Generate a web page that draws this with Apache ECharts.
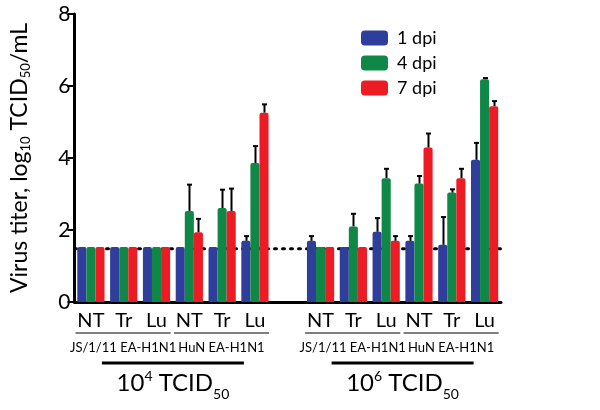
<!DOCTYPE html>
<html><head><meta charset="utf-8">
<script src="https://cdn.jsdelivr.net/npm/echarts@6/dist/echarts.min.js"></script>
<style>html,body{margin:0;padding:0;background:#fff}#c{width:600px;height:410px}</style>
</head><body><div id="c"></div>
<script>
// ---- data ----
const categories = ['a1','a2','a3','a4','a5','a6','gap','b1','b2','b3','b4','b5','b6'];
const tickLabels = ['NT','Tr','Lu','NT','Tr','Lu','','NT','Tr','Lu','NT','Tr','Lu'];
const seriesNames = ['1 dpi','4 dpi','7 dpi'];
const dpi1 = [1.53,1.53,1.53,1.53,1.53,1.70,null,1.70,1.53,1.95,1.70,1.59,3.95];
const dpi1Err = [0,0,0,0,0,0.13,null,0.13,0,0.38,0.13,0.77,0.47];
const dpi4 = [1.53,1.53,1.53,2.53,2.61,3.86,null,1.53,2.10,3.44,3.29,3.04,6.19];
const dpi4Err = [0,0,0,0.73,0.51,0.47,null,0,0.35,0.26,0.21,0.09,0.03];
const dpi7 = [1.53,1.53,1.53,1.94,2.53,5.26,null,1.53,1.53,1.70,4.29,3.44,5.44];
const dpi7Err = [0,0,0,0.37,0.62,0.23,null,0,0,0.13,0.39,0.26,0.14];
const detectionLimit = 1.48;
const strainGroups = [
  {label:'JS/1/11 EA-H1N1', from:0, to:2},
  {label:'HuN EA-H1N1', from:3, to:5},
  {label:'JS/1/11 EA-H1N1', from:7, to:9},
  {label:'HuN EA-H1N1', from:10, to:12}
];
const doseGroups = [
  {exp:'4', from:0, to:5},
  {exp:'6', from:7, to:12}
];
const colors = ['#2F3E9B','#0F8747','#ED1C24'];

// ---- chart ----
const FONT = 'Lato';
const CAT_GAP = 0.17;
const chart = echarts.init(document.getElementById('c'), null, {renderer:'canvas'});
const means = [dpi1, dpi4, dpi7];
const errs = [dpi1Err, dpi4Err, dpi7Err];

function errData(m, e) {
  const out = [];
  m.forEach((v, i) => { if (v != null && e[i] > 0) out.push([i, v, v + e[i]]); });
  return out;
}
function makeErr(sIdx) {
  return {
    type: 'custom', name: seriesNames[sIdx], z: 11,
    encode: {x: 0, y: [1, 2]},
    data: errData(means[sIdx], errs[sIdx]),
    renderItem: function (params, api) {
      const base = api.coord([api.value(0), api.value(1)]);
      const top = api.coord([api.value(0), api.value(2)]);
      const band = api.size([1, 0])[0];
      const bw = band * (1 - CAT_GAP) / 3;
      const x = Math.round(base[0] + (sIdx - 1) * bw) + 0.5;
      const st = {stroke: '#000', lineWidth: 2};
      return {type: 'group', children: [
        {type: 'line', shape: {x1: x, y1: base[1], x2: x, y2: top[1]}, style: st},
        {type: 'line', shape: {x1: x - 2.5, y1: top[1], x2: x + 2.5, y2: top[1]}, style: st}
      ]};
    },
    tooltip: {show: false}
  };
}

const barSeries = seriesNames.map((n, i) => ({
  type: 'bar', name: n, data: means[i], z: 10,
  barGap: '0%', barCategoryGap: (CAT_GAP * 100) + '%',
  itemStyle: {color: colors[i], borderRadius: [2, 2, 0, 0]}
}));

const limitLine = {
  type: 'custom', z: 1, silent: true,
  encode: {x: 0, y: 1},
  data: [[0, detectionLimit]],
  renderItem: function (params, api) {
    const cs = params.coordSys;
    const y = api.coord([0, api.value(1)])[1];
    return {type: 'line', shape: {x1: cs.x, y1: y, x2: cs.x + cs.width + 2, y2: y},
      style: {stroke: '#000', lineWidth: 3, lineDash: [2, 6], lineCap: 'round'}};
  }
};

const option = {
  animation: false,
  backgroundColor: '#fff',
  textStyle: {fontFamily: FONT},
  grid: {left: 70, right: 99, top: 14, bottom: 108},
  legend: {
    data: seriesNames, orient: 'vertical', left: 356, top: 24,
    itemWidth: 27, itemHeight: 15, itemGap: 7, icon: 'roundRect',
    textStyle: {fontSize: 18, color: '#000', fontFamily: FONT, padding: [0, 0, 0, 4]}
  },
  xAxis: {
    type: 'category', data: categories, boundaryGap: true,
    axisLine: {lineStyle: {color: '#000', width: 3}},
    axisTick: {alignWithLabel: true, length: 6, lineStyle: {color: '#000', width: 2}},
    axisLabel: {
      interval: 0, margin: 9, fontSize: 20, color: '#000', fontFamily: FONT,
      formatter: (v, i) => tickLabels[i]
    }
  },
  yAxis: {
    type: 'value', min: 0, max: 8, interval: 2,
    splitLine: {show: false},
    axisLine: {show: true, lineStyle: {color: '#000', width: 3}},
    axisTick: {show: true, length: 7, lineStyle: {color: '#000', width: 2}},
    axisLabel: {fontSize: 21, color: '#000', margin: 4, fontFamily: FONT},
    name: '{a|Virus titer, log}{s|10}{a| TCID}{s|50}{a|/mL}',
    nameLocation: 'middle', nameRotate: 90, nameGap: 42,
    nameTextStyle: {
      rich: {
        a: {fontSize: 23, color: '#000', fontFamily: FONT, lineHeight: 26, verticalAlign: 'middle'},
        s: {fontSize: 13, color: '#000', fontFamily: FONT, lineHeight: 12, verticalAlign: 'bottom'}
      }
    }
  },
  series: [
    limitLine,
    ...barSeries,
    makeErr(0), makeErr(1), makeErr(2)
  ]
};
chart.setOption(option);

// annotations beneath the axis, positioned from the category scale
function cx(i) { return chart.convertToPixel({xAxisIndex: 0}, i); }
const band = cx(1) - cx(0);
const gfx = [];
const yUnder = 333, yStrain = 348, yDose = 363, yDoseText = 383;
strainGroups.forEach(g => {
  const x1 = cx(g.from) - 0.47 * band, x2 = cx(g.to) + 0.43 * band;
  gfx.push({type: 'line', shape: {x1: x1, y1: yUnder, x2: x2, y2: yUnder}, style: {stroke: '#000', lineWidth: 1.2}});
  gfx.push({type: 'text', x: (x1 + x2) / 2, y: yStrain, style: {text: g.label, fontSize: 13, fontFamily: FONT, fill: '#000', align: 'center', verticalAlign: 'middle'}});
});
doseGroups.forEach(g => {
  const mid = (cx(g.from) + cx(g.to)) / 2;
  const x1 = mid - 71, x2 = mid + 71;
  gfx.push({type: 'line', shape: {x1: x1, y1: yDose, x2: x2, y2: yDose}, style: {stroke: '#000', lineWidth: 3}});
  gfx.push({type: 'text', x: mid, y: yDoseText, style: {
    text: '{a|10}{p|' + g.exp + '}{a| TCID}{s|50}', align: 'center', verticalAlign: 'middle',
    rich: {
      a: {fontSize: 24, fontFamily: FONT, fill: '#000', lineHeight: 28, verticalAlign: 'middle'},
      p: {fontSize: 14, fontFamily: FONT, fill: '#000', lineHeight: 14, verticalAlign: 'top'},
      s: {fontSize: 14, fontFamily: FONT, fill: '#000', lineHeight: 14, verticalAlign: 'bottom', padding: [0, 0, -4, 0]}
    }
  }});
});
chart.setOption({graphic: gfx});
</script></body></html>
